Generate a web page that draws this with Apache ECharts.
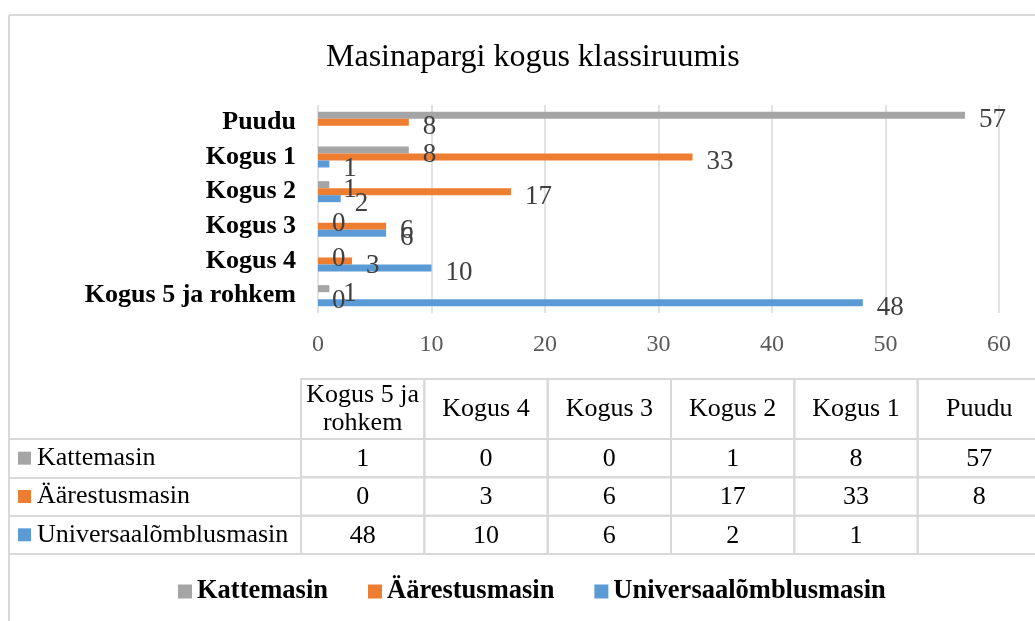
<!DOCTYPE html>
<html>
<head>
<meta charset="utf-8">
<script src="https://cdn.jsdelivr.net/npm/echarts@6/dist/echarts.min.js"></script>
<style>
  html, body { margin: 0; padding: 0; background: #fff; }
  #main { width: 1035px; height: 621px; }
</style>
</head>
<body>
<div id="main"></div>
<script>
// andmed
var categories = ['Kogus 5 ja rohkem', 'Kogus 4', 'Kogus 3', 'Kogus 2', 'Kogus 1', 'Puudu'];
var tableHeaders = ['Kogus 5 ja\nrohkem', 'Kogus 4', 'Kogus 3', 'Kogus 2', 'Kogus 1', 'Puudu'];
var seriesNames = ['Kattemasin', 'Äärestusmasin', 'Universaalõmblusmasin'];
var kattemasin = [1, 0, 0, 1, 8, 57];
var aarestusmasin = [0, 3, 6, 17, 33, 8];
var universaal = [48, 10, 6, 2, 1, null];
var xTicks = [0, 10, 20, 30, 40, 50, 60];

var colors = ['#a5a5a5', '#ed7d31', '#5b9bd5'];
var font = '"Liberation Serif", "Times New Roman", serif';
var lineColor = '#d9d9d9';
var headerHeight = 60;

var rows = [kattemasin, aarestusmasin, universaal];
var cells = [];
for (var r = 0; r < rows.length; r++) {
  for (var c = 0; c < categories.length; c++) {
    cells.push([c, r, rows[r][c]]);
  }
}

var barLabel = {
  show: true,
  position: 'right',
  distance: 14,
  offset: [0, 5],
  fontFamily: font,
  fontSize: 27,
  color: '#404040'
};

function barSeries(i, data) {
  return {
    name: seriesNames[i],
    type: 'bar',
    xAxisIndex: 0,
    yAxisIndex: 0,
    data: data,
    barWidth: 7,
    barGap: '0%',
    itemStyle: { color: colors[i] },
    label: barLabel,
    animation: false
  };
}

var chart = echarts.init(document.getElementById('main'));

var option = {
  backgroundColor: '#fff',
  textStyle: { fontFamily: font },
  title: {
    text: 'Masinapargi kogus klassiruumis',
    left: 326,
    top: 42,
    padding: 0,
    textStyle: { fontFamily: font, fontSize: 32, fontWeight: 'normal', color: '#000' }
  },
  legend: {
    data: seriesNames,
    left: 178,
    top: 578,
    padding: 0,
    icon: 'rect',
    itemWidth: 14,
    itemHeight: 14,
    itemGap: 40,
    textStyle: { fontFamily: font, fontSize: 26.5, fontWeight: 'bold', color: '#000' }
  },
  grid: [
    { left: 318, right: 36, top: 105, bottom: 308, outerBoundsMode: 'none' },
    { left: 301, width: 740, top: 439, bottom: 67, outerBoundsMode: 'none' }
  ],
  xAxis: [
    {
      type: 'value',
      gridIndex: 0,
      min: xTicks[0],
      max: xTicks[xTicks.length - 1],
      interval: xTicks[1] - xTicks[0],
      axisLine: { show: false },
      axisTick: { show: false },
      splitLine: { lineStyle: { color: lineColor, width: 1.5 } },
      axisLabel: { margin: 20, fontFamily: font, fontSize: 24, color: '#595959' }
    },
    {
      type: 'category',
      gridIndex: 1,
      position: 'top',
      offset: headerHeight,
      data: tableHeaders,
      axisLine: { lineStyle: { color: lineColor, width: 2 } },
      axisTick: { show: false },
      splitLine: { show: false },
      axisLabel: {
        inside: true,
        interval: 0,
        margin: 30,
        verticalAlign: 'middle',
        lineHeight: 28,
        fontFamily: font,
        fontSize: 26,
        color: '#000'
      }
    }
  ],
  yAxis: [
    {
      type: 'category',
      gridIndex: 0,
      data: categories,
      axisLine: { show: false },
      axisTick: { show: false },
      axisLabel: { interval: 0, margin: 22, fontFamily: font, fontSize: 26, fontWeight: 'bold', color: '#000' }
    },
    {
      type: 'category',
      gridIndex: 1,
      inverse: true,
      data: seriesNames,
      axisLine: { show: false },
      axisTick: { show: true, length: 291, lineStyle: { color: lineColor, width: 2 } },
      splitLine: { show: false },
      axisLabel: {
        interval: 0,
        align: 'left',
        margin: 283,
        formatter: function (v, i) { return '{s' + i + '|}{t|' + v + '}'; },
        rich: {
          s0: { width: 13, height: 13, backgroundColor: colors[0] },
          s1: { width: 13, height: 13, backgroundColor: colors[1] },
          s2: { width: 13, height: 13, backgroundColor: colors[2] },
          t: { fontFamily: font, fontSize: 26, color: '#000', padding: [0, 0, 0, 6] }
        }
      }
    }
  ],
  graphic: [
    { type: 'line', shape: { x1: 9, y1: 15, x2: 1035, y2: 15 }, style: { stroke: lineColor, lineWidth: 2 } },
    { type: 'line', shape: { x1: 9, y1: 15, x2: 9, y2: 621 }, style: { stroke: lineColor, lineWidth: 2 } }
  ],
  series: [
    barSeries(0, kattemasin),
    barSeries(1, aarestusmasin),
    barSeries(2, universaal),
    {
      name: 'tabel',
      type: 'custom',
      xAxisIndex: 1,
      yAxisIndex: 1,
      data: cells,
      animation: false,
      silent: true,
      z: 1,
      renderItem: function (params, api) {
        var p = api.coord([api.value(0), api.value(1)]);
        var s = api.size([1, 1]);
        var v = api.value(2);
        var x0 = p[0] - s[0] / 2;
        var y0 = p[1] - s[1] / 2;
        var children = [
          {
            type: 'rect',
            shape: { x: x0, y: y0, width: s[0], height: s[1] },
            style: { fill: 'none', stroke: lineColor, lineWidth: 2 }
          },
          {
            type: 'text',
            style: {
              x: p[0],
              y: p[1] + 1,
              text: (v === null || isNaN(v)) ? '' : String(v),
              align: 'center',
              verticalAlign: 'middle',
              fontFamily: font,
              fontSize: 26,
              fill: '#000'
            }
          }
        ];
        // päise lahter esimese rea kohal
        if (api.value(1) === 0) {
          children.push({
            type: 'rect',
            shape: { x: x0, y: y0 - headerHeight, width: s[0], height: headerHeight },
            style: { fill: 'none', stroke: lineColor, lineWidth: 2 }
          });
        }
        return { type: 'group', children: children };
      }
    }
  ]
};

chart.setOption(option);
</script>
</body>
</html>
